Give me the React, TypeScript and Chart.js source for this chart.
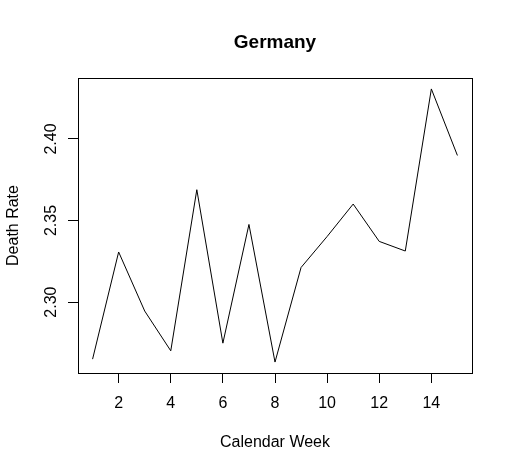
import React, { useEffect, useRef } from "react";
import { Chart, registerables } from "chart.js";

Chart.register(...registerables);

const chartTitle = "Germany";
const xTitle = "Calendar Week";
const yTitle = "Death Rate";
const weeks = [1, 2, 3, 4, 5, 6, 7, 8, 9, 10, 11, 12, 13, 14, 15];
const deathRate = [
  2.265, 2.3307, 2.2945, 2.2701, 2.3689, 2.2748, 2.3476, 2.2632, 2.3212,
  2.3402, 2.3601, 2.3372, 2.3313, 2.4307, 2.3899,
];
const xTicks = [2, 4, 6, 8, 10, 12, 14];
const yTicks = [2.3, 2.35, 2.4];
const yTickLabels = ["2.30", "2.35", "2.40"];

const FONT = "'Liberation Sans', Arial, sans-serif";

export default function App() {
  const ref = useRef<HTMLCanvasElement>(null);

  useEffect(() => {
    if (!ref.current) return;
    const xMin = Math.min(...weeks);
    const xMax = Math.max(...weeks);
    const xPad = (xMax - xMin) * 0.04;
    const yMinV = Math.min(...deathRate);
    const yMaxV = Math.max(...deathRate);
    const yPad = (yMaxV - yMinV) * 0.04;

    const rPlot = {
      id: "rPlot",
      afterDraw(chart: any) {
        const ctx = chart.ctx;
        const a = chart.chartArea;
        const xs = chart.scales.x;
        const ys = chart.scales.y;
        ctx.save();
        ctx.strokeStyle = "#000";
        ctx.lineWidth = 1;
        ctx.strokeRect(a.left + 0.5, a.top + 0.5, a.right - a.left, a.bottom - a.top);
        ctx.fillStyle = "#000";
        ctx.font = `16px ${FONT}`;
        ctx.textAlign = "center";
        ctx.textBaseline = "alphabetic";
        xTicks.forEach((v) => {
          ctx.fillText(String(v), xs.getPixelForValue(v), 408);
        });
        yTicks.forEach((v, i) => {
          ctx.save();
          ctx.translate(56, ys.getPixelForValue(v));
          ctx.rotate(-Math.PI / 2);
          ctx.fillText(yTickLabels[i], 0, 0);
          ctx.restore();
        });
        ctx.fillText(xTitle, (a.left + a.right) / 2, 447);
        ctx.save();
        ctx.translate(18, (a.top + a.bottom) / 2);
        ctx.rotate(-Math.PI / 2);
        ctx.fillText(yTitle, 0, 0);
        ctx.restore();
        ctx.font = `bold 19px ${FONT}`;
        ctx.fillText(chartTitle, (a.left + a.right) / 2, 48);
        ctx.restore();
      },
    };

    const chart = new Chart(ref.current, {
      type: "line",
      data: {
        datasets: [
          {
            data: weeks.map((w, i) => ({ x: w, y: deathRate[i] })),
            borderColor: "#000",
            borderWidth: 1,
            pointRadius: 0,
            tension: 0,
            fill: false,
          },
        ],
      },
      options: {
        responsive: false,
        animation: false,
        events: [],
        layout: { padding: { top: 78, right: 41, left: 0, bottom: 0 } },
        plugins: {
          legend: { display: false },
          title: { display: false },
          tooltip: { enabled: false },
        },
        scales: {
          x: {
            type: "linear",
            min: xMin - xPad,
            max: xMax + xPad,
            afterBuildTicks: (s: any) => {
              s.ticks = xTicks.map((v) => ({ value: v }));
            },
            afterFit: (s: any) => {
              s.height = 98;
            },
            ticks: { display: false },
            border: { display: false },
            grid: {
              drawOnChartArea: false,
              drawTicks: true,
              tickLength: 10,
              color: "#000",
              lineWidth: 1,
            },
          },
          y: {
            type: "linear",
            min: yMinV - yPad,
            max: yMaxV + yPad,
            afterBuildTicks: (s: any) => {
              s.ticks = yTicks.map((v) => ({ value: v }));
            },
            afterFit: (s: any) => {
              s.width = 78;
            },
            ticks: { display: false },
            border: { display: false },
            grid: {
              drawOnChartArea: false,
              drawTicks: true,
              tickLength: 10,
              color: "#000",
              lineWidth: 1,
            },
          },
        },
      },
      plugins: [rPlot],
    });
    return () => chart.destroy();
  }, []);

  return (
    <div style={{ position: "fixed", left: 0, top: 0, width: 513, height: 471, background: "#fff" }}>
      <canvas ref={ref} width={513} height={471} style={{ display: "block" }} />
    </div>
  );
}
